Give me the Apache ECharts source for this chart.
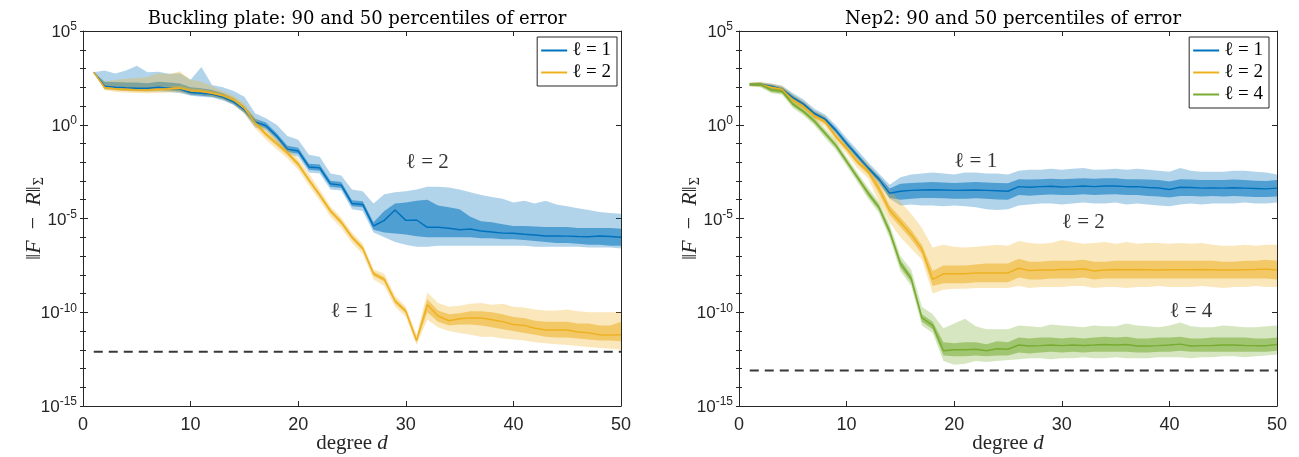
<!DOCTYPE html>
<html><head><meta charset="utf-8">
<script src="https://cdn.jsdelivr.net/npm/echarts@6/dist/echarts.min.js"></script>
<style>html,body{margin:0;padding:0;background:#fff}#c{width:1299px;height:457px}</style>
</head><body><div id="c"></div><script>
// ---------------- data (values are log10 of ||F-R||) ----------------
const degrees = [1,2,3,4,5,6,7,8,9,10,11,12,13,14,15,16,17,18,19,20,21,22,23,24,25,26,27,28,29,30,31,32,33,34,35,36,37,38,39,40,41,42,43,44,45,46,47,48,49,50];
const xTicks = [0,10,20,30,40,50];
const titles = ['Buckling plate: 90 and 50 percentiles of error', 'Nep2: 90 and 50 percentiles of error'];
const legendNames = ['ℓ = 1', 'ℓ = 2', 'ℓ = 4'];

// Left panel, ℓ = 1 (blue)
const LB_med  = [2.8,2.05,2.0,1.97,1.95,1.95,2.0,1.95,1.9,1.72,1.68,1.62,1.48,1.22,0.8,0.15,-0.05,-0.6,-1.3,-1.4,-2.25,-2.3,-3.15,-3.22,-4.2,-4.25,-5.4,-5.1,-4.55,-5.1,-5.08,-5.47,-5.47,-5.52,-5.6,-5.56,-5.67,-5.72,-5.78,-5.79,-5.84,-5.88,-5.93,-5.93,-5.94,-5.96,-5.97,-5.93,-5.96,-6.0];
const LB_inLo = [2.8,1.95,1.88,1.85,1.83,1.83,1.87,1.83,1.78,1.6,1.55,1.5,1.36,1.1,0.65,0.0,-0.2,-0.75,-1.45,-1.55,-2.4,-2.45,-3.3,-3.37,-4.35,-4.4,-5.6,-5.75,-5.8,-5.85,-5.95,-6.0,-6.0,-6.0,-6.0,-6.0,-6.05,-6.05,-6.1,-6.1,-6.15,-6.2,-6.25,-6.3,-6.3,-6.35,-6.4,-6.4,-6.45,-6.45];
const LB_inHi = [2.8,2.3,2.28,2.25,2.25,2.22,2.3,2.25,2.2,2.0,1.95,1.85,1.68,1.4,0.98,0.32,0.12,-0.45,-1.12,-1.22,-2.08,-2.12,-2.98,-3.05,-4.02,-4.08,-5.2,-4.6,-4.2,-4.15,-4.05,-4.0,-4.3,-4.4,-4.5,-4.9,-5.15,-5.2,-5.3,-5.4,-5.4,-5.42,-5.45,-5.45,-5.45,-5.5,-5.5,-5.5,-5.5,-5.55];
const LB_outLo = [2.8,1.9,1.85,1.8,1.8,1.78,1.78,1.75,1.7,1.55,1.5,1.45,1.3,1.05,0.6,-0.15,-0.3,-0.9,-1.55,-1.7,-2.55,-2.6,-3.45,-3.5,-4.5,-4.6,-5.75,-6.0,-6.25,-6.4,-6.5,-6.5,-6.45,-6.45,-6.45,-6.45,-6.45,-6.45,-6.45,-6.45,-6.45,-6.5,-6.5,-6.5,-6.5,-6.5,-6.55,-6.55,-6.55,-6.6];
const LB_outHi = [2.8,2.9,2.74,2.9,3.15,2.8,2.83,2.72,2.75,2.4,3.08,2.12,2.0,1.8,1.5,0.62,0.35,0.0,-0.6,-0.8,-1.6,-1.7,-2.6,-2.7,-3.45,-3.55,-4.2,-3.7,-3.6,-3.55,-3.45,-3.3,-3.3,-3.35,-3.45,-3.6,-3.75,-3.85,-3.95,-4.15,-4.05,-4.2,-4.05,-4.25,-4.35,-4.45,-4.55,-4.65,-4.7,-4.75];

// Left panel, ℓ = 2 (orange)
const LO_med  = [2.8,1.99,1.92,1.89,1.86,1.86,1.89,1.92,1.95,1.82,1.79,1.68,1.55,1.32,0.88,0.1,-0.5,-1.0,-1.5,-2.1,-2.95,-3.75,-4.6,-5.2,-6.0,-6.6,-7.95,-8.25,-9.4,-9.95,-11.5,-9.6,-10.2,-10.45,-10.35,-10.3,-10.3,-10.4,-10.5,-10.65,-10.7,-10.85,-10.95,-10.95,-10.95,-11.05,-11.1,-11.2,-11.22,-11.2];
const LO_inLo = [2.8,1.9,1.84,1.8,1.78,1.78,1.8,1.83,1.85,1.72,1.7,1.58,1.45,1.2,0.75,-0.02,-0.62,-1.12,-1.62,-2.22,-3.07,-3.87,-4.72,-5.32,-6.12,-6.72,-8.07,-8.37,-9.52,-10.07,-11.62,-10.0,-10.5,-10.7,-10.65,-10.65,-10.7,-10.8,-10.9,-11.0,-11.1,-11.2,-11.3,-11.35,-11.35,-11.4,-11.45,-11.5,-11.5,-11.55];
const LO_inHi = [2.8,2.1,2.02,2.0,1.97,1.98,2.02,2.03,2.08,1.94,1.9,1.8,1.66,1.45,1.0,0.22,-0.38,-0.88,-1.38,-1.98,-2.83,-3.63,-4.48,-5.08,-5.88,-6.48,-7.83,-8.13,-9.28,-9.83,-11.38,-9.3,-9.9,-10.1,-10.05,-9.95,-9.95,-10.0,-10.1,-10.25,-10.3,-10.45,-10.5,-10.5,-10.5,-10.6,-10.6,-10.7,-10.7,-10.5];
const LO_outLo = [2.8,1.85,1.75,1.72,1.7,1.68,1.7,1.72,1.72,1.62,1.6,1.5,1.35,1.1,0.6,-0.2,-0.8,-1.3,-1.8,-2.4,-3.25,-4.05,-4.9,-5.5,-6.3,-6.9,-8.25,-8.6,-9.7,-10.25,-11.75,-10.4,-10.8,-11.0,-11.1,-11.2,-11.3,-11.3,-11.4,-11.45,-11.5,-11.6,-11.65,-11.7,-11.75,-11.8,-11.85,-11.9,-11.95,-12.0];
const LO_outHi = [2.8,2.3,2.4,2.45,2.5,2.55,2.75,2.7,2.85,2.4,2.3,2.05,1.8,1.55,1.15,0.4,-0.2,-0.7,-1.2,-1.8,-2.6,-3.45,-4.35,-4.95,-5.75,-6.35,-7.7,-7.95,-9.1,-9.7,-11.2,-8.95,-9.5,-9.7,-9.65,-9.55,-9.5,-9.6,-9.55,-9.7,-9.75,-9.85,-9.9,-9.9,-9.85,-9.95,-10.0,-10.0,-10.0,-10.0];

// Right panel, ℓ = 1 (blue)
const RB_med  = [2.15,2.15,2.05,1.9,1.45,1.1,0.6,0.3,-0.3,-1.0,-1.65,-2.3,-2.9,-3.65,-3.55,-3.5,-3.48,-3.47,-3.48,-3.5,-3.49,-3.48,-3.5,-3.52,-3.55,-3.3,-3.33,-3.3,-3.28,-3.32,-3.3,-3.27,-3.3,-3.27,-3.27,-3.3,-3.3,-3.35,-3.37,-3.45,-3.33,-3.35,-3.38,-3.37,-3.38,-3.36,-3.38,-3.4,-3.42,-3.38];
const RB_inLo = [2.1,2.08,1.97,1.8,1.33,0.98,0.48,0.17,-0.43,-1.13,-1.78,-2.43,-3.05,-3.9,-4.0,-3.95,-3.9,-3.9,-3.92,-3.95,-3.95,-3.92,-3.95,-3.98,-4.0,-3.75,-3.78,-3.75,-3.72,-3.75,-3.75,-3.7,-3.75,-3.72,-3.7,-3.75,-3.75,-3.8,-3.82,-3.88,-3.8,-3.8,-3.82,-3.8,-3.82,-3.8,-3.82,-3.85,-3.85,-3.82];
const RB_inHi = [2.2,2.22,2.13,2.0,1.58,1.22,0.72,0.42,-0.17,-0.87,-1.52,-2.17,-2.75,-3.4,-3.15,-3.1,-3.08,-3.05,-3.08,-3.1,-3.08,-3.05,-3.08,-3.1,-3.12,-2.9,-2.92,-2.9,-2.88,-2.9,-2.88,-2.85,-2.88,-2.85,-2.85,-2.9,-2.9,-2.92,-2.95,-3.02,-2.9,-2.92,-2.95,-2.95,-2.95,-2.92,-2.95,-2.98,-3.0,-2.95];
const RB_outLo = [2.08,2.05,1.92,1.72,1.25,0.9,0.4,0.08,-0.5,-1.2,-1.85,-2.52,-3.15,-3.95,-4.3,-4.25,-4.3,-4.3,-4.35,-4.3,-4.35,-4.4,-4.5,-4.55,-4.5,-4.3,-4.25,-4.2,-4.2,-4.25,-4.2,-4.15,-4.2,-4.2,-4.15,-4.25,-4.2,-4.25,-4.3,-4.35,-4.25,-4.2,-4.25,-4.2,-4.2,-4.2,-4.15,-4.2,-4.2,-4.15];
const RB_outHi = [2.22,2.25,2.2,2.08,1.7,1.35,0.85,0.55,-0.02,-0.7,-1.35,-2.0,-2.6,-3.2,-2.8,-2.65,-2.6,-2.55,-2.6,-2.65,-2.55,-2.55,-2.6,-2.6,-2.65,-2.45,-2.4,-2.4,-2.35,-2.4,-2.35,-2.3,-2.4,-2.38,-2.35,-2.4,-2.35,-2.4,-2.45,-2.5,-2.3,-2.45,-2.5,-2.5,-2.5,-2.45,-2.45,-2.5,-2.55,-2.65];

// Right panel, ℓ = 2 (orange)
const RO_med  = [2.15,2.15,2.0,1.89,1.32,0.96,0.47,0.16,-0.63,-1.26,-1.97,-2.5,-3.4,-4.55,-5.2,-5.85,-6.65,-8.25,-7.95,-7.95,-7.95,-7.9,-7.9,-7.9,-7.9,-7.65,-7.78,-7.75,-7.75,-7.72,-7.72,-7.68,-7.8,-7.75,-7.72,-7.73,-7.72,-7.73,-7.75,-7.73,-7.73,-7.73,-7.72,-7.73,-7.75,-7.75,-7.73,-7.72,-7.7,-7.75];
const RO_inLo = [2.1,2.08,1.9,1.78,1.2,0.84,0.35,0.04,-0.75,-1.38,-2.1,-2.65,-3.65,-4.8,-5.45,-6.1,-6.9,-8.6,-8.45,-8.45,-8.45,-8.4,-8.4,-8.4,-8.4,-8.15,-8.25,-8.25,-8.2,-8.2,-8.2,-8.15,-8.25,-8.2,-8.2,-8.2,-8.2,-8.2,-8.2,-8.2,-8.2,-8.2,-8.2,-8.2,-8.2,-8.2,-8.2,-8.2,-8.2,-8.25];
const RO_inHi = [2.2,2.22,2.1,1.98,1.45,1.1,0.6,0.3,-0.5,-1.12,-1.82,-2.35,-3.15,-4.3,-4.95,-5.6,-6.4,-7.8,-7.5,-7.5,-7.5,-7.45,-7.4,-7.4,-7.4,-7.15,-7.3,-7.3,-7.25,-7.25,-7.25,-7.2,-7.3,-7.3,-7.25,-7.25,-7.25,-7.25,-7.25,-7.25,-7.25,-7.25,-7.25,-7.25,-7.3,-7.3,-7.25,-7.25,-7.2,-7.25];
const RO_outLo = [2.05,2.0,1.82,1.68,1.1,0.72,0.22,-0.1,-0.9,-1.55,-2.3,-2.85,-4.1,-5.2,-6.0,-6.6,-7.2,-9.0,-8.8,-8.75,-8.75,-8.7,-8.7,-8.7,-8.7,-8.6,-8.7,-8.65,-8.65,-8.65,-8.6,-8.6,-8.7,-8.65,-8.65,-8.7,-8.65,-8.65,-8.6,-8.65,-8.65,-8.65,-8.6,-8.65,-8.7,-8.65,-8.65,-8.6,-8.65,-8.65];
const RO_outHi = [2.25,2.3,2.2,2.08,1.6,1.25,0.75,0.45,-0.3,-0.9,-1.6,-2.1,-2.8,-3.5,-4.1,-4.75,-5.5,-6.55,-6.4,-6.5,-6.55,-6.5,-6.45,-6.4,-6.45,-6.2,-6.3,-6.35,-6.3,-6.15,-6.25,-6.35,-6.3,-6.25,-6.35,-6.25,-6.35,-6.3,-6.3,-6.35,-6.3,-6.35,-6.3,-6.4,-6.45,-6.45,-6.4,-6.45,-6.4,-6.4];

// Right panel, ℓ = 4 (green)
const RG_med  = [2.15,2.15,1.85,1.78,1.1,0.7,0.2,-0.45,-1.1,-1.95,-2.8,-3.65,-4.4,-5.7,-7.4,-8.2,-10.3,-10.7,-12.05,-12.0,-12.0,-11.97,-12.05,-11.95,-11.97,-11.75,-11.8,-11.78,-11.75,-11.78,-11.75,-11.77,-11.75,-11.72,-11.75,-11.72,-11.8,-11.8,-11.78,-11.75,-11.7,-11.8,-11.78,-11.77,-11.75,-11.75,-11.77,-11.78,-11.78,-11.72];
const RG_inLo = [2.1,2.08,1.75,1.68,1.0,0.6,0.08,-0.57,-1.22,-2.07,-2.92,-3.8,-4.55,-5.85,-7.6,-8.4,-10.5,-10.9,-12.3,-12.35,-12.35,-12.3,-12.35,-12.3,-12.3,-12.15,-12.2,-12.15,-12.1,-12.15,-12.1,-12.15,-12.1,-12.1,-12.1,-12.1,-12.15,-12.15,-12.1,-12.1,-12.05,-12.1,-12.1,-12.1,-12.1,-12.1,-12.1,-12.1,-12.1,-12.05];
const RG_inHi = [2.2,2.22,1.95,1.88,1.2,0.8,0.3,-0.33,-0.98,-1.83,-2.68,-3.5,-4.25,-5.5,-7.2,-8.0,-10.1,-10.5,-11.6,-11.65,-11.6,-11.6,-11.7,-11.55,-11.6,-11.35,-11.4,-11.35,-11.35,-11.4,-11.35,-11.4,-11.35,-11.3,-11.35,-11.3,-11.4,-11.4,-11.35,-11.35,-11.3,-11.4,-11.4,-11.35,-11.35,-11.35,-11.35,-11.4,-11.4,-11.35];
const RG_outLo = [2.05,2.0,1.68,1.6,0.9,0.5,-0.02,-0.7,-1.35,-2.2,-3.05,-3.95,-4.7,-6.05,-7.8,-8.6,-10.7,-11.1,-12.6,-12.8,-12.75,-12.6,-12.65,-12.6,-12.55,-12.5,-12.45,-12.45,-12.5,-12.45,-12.45,-12.4,-12.45,-12.45,-12.4,-12.45,-12.45,-12.45,-12.4,-12.4,-12.4,-12.45,-12.4,-12.4,-12.35,-12.35,-12.4,-12.35,-12.3,-12.25];
const RG_outHi = [2.25,2.28,2.0,1.95,1.3,0.9,0.42,-0.2,-0.85,-1.7,-2.55,-3.35,-4.1,-5.3,-7.0,-7.7,-9.7,-10.1,-10.85,-10.6,-10.35,-10.75,-10.9,-10.9,-10.9,-10.7,-10.75,-10.8,-10.65,-10.7,-10.75,-10.8,-10.7,-10.75,-10.75,-10.6,-10.7,-10.75,-10.8,-10.7,-10.55,-10.75,-10.8,-10.8,-10.7,-10.75,-10.8,-10.8,-10.75,-10.7];

// dashed reference levels (log10) and their x-extent
const dashLevels = [-12.1, -13.1];
const dashRange = [1, 50];

// text annotations: [panel, degree, log10 value, text]
const notes = [[0, 32, -2.0, 'ℓ = 2'], [0, 25, -9.95, 'ℓ = 1'], [1, 22, -1.95, 'ℓ = 1'], [1, 32, -5.2, 'ℓ = 2'], [1, 42, -9.95, 'ℓ = 4']];

// ---------------- chart ----------------
const P = v => Math.pow(10, v);
const SERIF = 'Liberation Serif, DejaVu Serif, serif';
const TSERIF = 'DejaVu Serif, Liberation Serif, serif';
const SANS = 'Liberation Sans, Arial, Helvetica, sans-serif';
const AX = '#262626';
const COL = { blue: [0,114,189], orange: [237,177,32], green: [119,172,48] };
const rgba = (c, a) => 'rgba(' + c[0] + ',' + c[1] + ',' + c[2] + ',' + a + ')';

const grids = [
  { left: 83, top: 31, width: 538, height: 375, containLabel: false, outerBoundsMode: 'none' },
  { left: 739, top: 31, width: 538, height: 375, containLabel: false, outerBoundsMode: 'none' }
];

const xAxis = [], yAxis = [];
grids.forEach((g, gi) => {
  const line = { show: true, onZero: false, lineStyle: { color: AX, width: 1 } };
  xAxis.push({
    type: 'value', gridIndex: gi, min: 0, max: 50, interval: 10, position: 'bottom',
    axisLine: line, axisTick: { inside: true, length: 5, lineStyle: { color: AX } },
    axisLabel: { fontSize: 18, color: AX, fontFamily: SANS, margin: 10 },
    splitLine: { show: false },
    name: 'degree {i|d}', nameLocation: 'middle', nameGap: 27, nameMoveOverlap: false,
    nameTextStyle: { fontFamily: SERIF, fontSize: 21, color: AX, rich: { i: { fontStyle: 'italic', fontFamily: SERIF, fontSize: 21, color: AX } } }
  });
  xAxis.push({
    type: 'value', gridIndex: gi, min: 0, max: 50, interval: 10, position: 'top',
    axisLine: line, axisTick: { inside: true, length: 5, lineStyle: { color: AX } },
    axisLabel: { show: false }, splitLine: { show: false }
  });
  const base = { type: 'log', logBase: 10, gridIndex: gi, min: 1e-15, max: 1e5, splitLine: { show: false } };
  yAxis.push(Object.assign({}, base, {
    position: 'left', interval: 5, axisLine: line,
    axisTick: { inside: true, length: 5, lineStyle: { color: AX } },
    axisLabel: {
      margin: 6, color: AX, fontFamily: SANS,
      formatter: v => '{b|10}{s|' + Math.round(Math.log10(v)) + '}',
      rich: { b: { fontSize: 17, fontFamily: SANS, color: AX, verticalAlign: 'bottom' },
              s: { fontSize: 12, fontFamily: SANS, color: AX, verticalAlign: 'bottom', padding: [0, 0, 8, 0] } }
    },
    name: '‖{i|F}  −  {i|R}‖{sub|Σ}', nameLocation: 'middle', nameGap: 37, nameRotate: 90, nameMoveOverlap: false,
    nameTextStyle: { fontFamily: SERIF, fontSize: 22, color: AX,
      rich: { i: { fontStyle: 'italic', fontFamily: SERIF, fontSize: 22, color: AX },
              sub: { fontSize: 14, fontFamily: SERIF, color: AX, verticalAlign: 'top', padding: [9, 0, 0, 1] } } }
  }));
  yAxis.push(Object.assign({}, base, {
    position: 'left', interval: 1, axisLine: { show: false },
    axisTick: { inside: true, length: 3, lineStyle: { color: AX } }, axisLabel: { show: false }
  }));
  yAxis.push(Object.assign({}, base, {
    position: 'right', interval: 5, axisLine: line,
    axisTick: { inside: true, length: 5, lineStyle: { color: AX } }, axisLabel: { show: false }
  }));
  yAxis.push(Object.assign({}, base, {
    position: 'right', interval: 1, axisLine: { show: false },
    axisTick: { inside: true, length: 3, lineStyle: { color: AX } }, axisLabel: { show: false }
  }));
});

function band(gi, lo, hi, color, alpha) {
  return {
    type: 'custom', xAxisIndex: gi * 2, yAxisIndex: gi * 4, silent: true,
    data: degrees.map((d, i) => [d, P(lo[i]), P(hi[i])]),
    encode: { x: 0, y: [1, 2] },
    renderItem: function (params, api) {
      if (params.dataIndex !== 0) return null;
      const top = degrees.map((d, i) => api.coord([d, P(hi[i])]));
      const bot = degrees.map((d, i) => api.coord([d, P(lo[i])])).reverse();
      return { type: 'polygon', shape: { points: top.concat(bot) }, style: { fill: rgba(color, alpha) } };
    }
  };
}
function median(gi, name, med, color) {
  return {
    type: 'line', name: name, xAxisIndex: gi * 2, yAxisIndex: gi * 4,
    data: degrees.map((d, i) => [d, P(med[i])]),
    symbol: 'none', showSymbol: false, lineStyle: { color: rgba(color, 1), width: 1.5 },
    itemStyle: { color: rgba(color, 1) }, silent: true
  };
}
function group(gi, name, m, inLo, inHi, outLo, outHi, color) {
  return [band(gi, outLo, outHi, color, 0.3), band(gi, inLo, inHi, color, 0.55), median(gi, name, m, color)];
}

const series = [].concat(
  group(0, legendNames[0], LB_med, LB_inLo, LB_inHi, LB_outLo, LB_outHi, COL.blue),
  group(0, legendNames[1], LO_med, LO_inLo, LO_inHi, LO_outLo, LO_outHi, COL.orange),
  group(1, legendNames[0], RB_med, RB_inLo, RB_inHi, RB_outLo, RB_outHi, COL.blue),
  group(1, legendNames[1], RO_med, RO_inLo, RO_inHi, RO_outLo, RO_outHi, COL.orange),
  group(1, legendNames[2], RG_med, RG_inLo, RG_inHi, RG_outLo, RG_outHi, COL.green)
);
dashLevels.forEach((lv, gi) => {
  series.push({
    type: 'line', xAxisIndex: gi * 2, yAxisIndex: gi * 4, silent: true, symbol: 'none',
    data: dashRange.map(d => [d, P(lv)]),
    lineStyle: { color: '#383838', width: 2, type: [9, 6] }
  });
});
[0, 1].forEach(gi => {
  series.push({
    type: 'scatter', xAxisIndex: gi * 2, yAxisIndex: gi * 4, silent: true,
    symbol: 'circle', symbolSize: 1, itemStyle: { color: 'rgba(255,255,255,0)' },
    data: notes.filter(n => n[0] === gi).map(n => ({ value: [n[1], P(n[2])], label: { formatter: n[3] } })),
    label: { show: true, position: 'inside', fontFamily: SERIF, fontSize: 21, color: '#000' },
    z: 10
  });
});

const option = {
  animation: false,
  backgroundColor: '#fff',
  title: titles.map((t, gi) => ({
    text: t, left: grids[gi].left + grids[gi].width / 2, top: 5, textAlign: 'center',
    textStyle: { fontFamily: TSERIF, fontSize: 18, fontWeight: 'normal', color: '#000' }
  })),
  legend: [
    { data: legendNames.slice(0, 2), right: 682, top: 37 },
    { data: legendNames.slice(0, 3), right: 30, top: 37 }
  ].map(l => Object.assign(l, {
    orient: 'vertical', icon: 'rect', itemWidth: 26, itemHeight: 2, itemGap: 3,
    padding: [4, 6, 4, 4], borderColor: AX, borderWidth: 1, backgroundColor: '#fff',
    selectedMode: false,
    textStyle: { fontFamily: SERIF, fontSize: 19, color: '#000', lineHeight: 17 }
  })),
  grid: grids,
  xAxis: xAxis,
  yAxis: yAxis,
  series: series
};

const chart = echarts.init(document.getElementById('c'), null, { renderer: 'canvas' });
chart.setOption(option);
</script></body></html>
